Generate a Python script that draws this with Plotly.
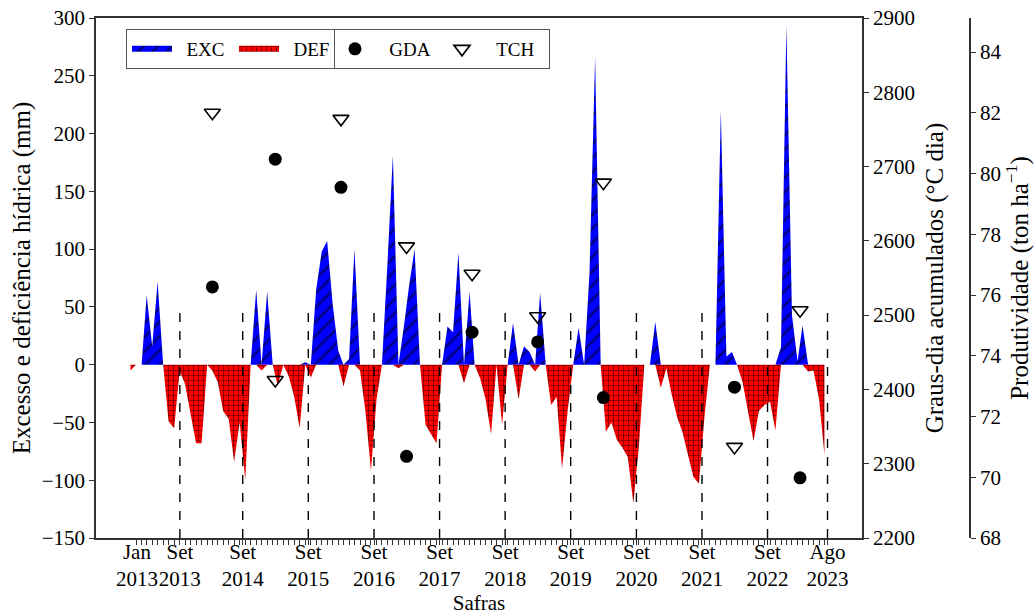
import plotly.graph_objects as go
import pandas as pd

# ---------------- data ----------------
# monthly water balance, Dec 2012 .. Jul 2023
exc_2012 = [0]
def_2012 = [-5]
exc_2013 = [0, 0, 60, 16, 72, 0, 0, 0, 0, 0, 0, 0]
def_2013 = [0, 0, 0, 0, 0, 0, -49, -55, -5, -17, -43, -68]
exc_2014 = [0, 0, 0, 0, 0, 0, 0, 0, 0, 0, 65, 0]
def_2014 = [-68, 0, -5, -15, -40, -47, -84, -50, -100, 0, 0, -5]
exc_2015 = [63, 0, 0, 0, 0, 0, 0, 2, 0, 65, 98, 107]
def_2015 = [0, 0, -18, 0, -10, -28, -55, 0, -11, 0, 0, 0]
exc_2016 = [52, 12, 0, 5, 100, 0, 0, 0, 0, 0, 88, 181]
def_2016 = [0, 0, -19, 0, 0, -5, -40, -92, -30, 0, 0, 0]
exc_2017 = [0, 34, 68, 100, 0, 0, 0, 0, 0, 33, 28, 97]
def_2017 = [-3, 0, 0, 0, 0, -52, -60, -68, 0, 0, 0, 0]
exc_2018 = [0, 63, 0, 0, 0, 0, 0, 0, 0, 36, 0, 16]
def_2018 = [-16, 0, 0, -12, -30, -60, 0, -52, 0, 0, -30, 0]
exc_2019 = [11, 0, 62, 0, 0, 0, 0, 0, 0, 32, 0, 80]
def_2019 = [0, -6, 0, 0, -35, -28, -90, -40, 0, 0, 0, 0]
exc_2020 = [266, 0, 0, 0, 0, 0, 0, 0, 0, 0, 0, 37]
def_2020 = [0, 0, -58, -50, -65, -72, -80, -120, -70, 0, 0, 0]
exc_2021 = [0, 0, 0, 0, 0, 0, 0, 0, 0, 0, 0, 220]
def_2021 = [-20, -3, -25, -45, -58, -78, -97, -103, -45, 0, 0, 0]
exc_2022 = [7, 11, 0, 0, 0, 0, 0, 0, 0, 0, 15, 294]
def_2022 = [0, 0, 0, -15, -40, -66, -40, -35, -32, -57, 0, 0]
exc_2023 = [43, 3, 34, 0, 0, 0, 0]
def_2023 = [0, 0, 0, -6, -5, -30, -78]

exc = (exc_2012 + exc_2013 + exc_2014 + exc_2015 + exc_2016 + exc_2017 +
       exc_2018 + exc_2019 + exc_2020 + exc_2021 + exc_2022 + exc_2023)
deff = (def_2012 + def_2013 + def_2014 + def_2015 + def_2016 + def_2017 +
        def_2018 + def_2019 + def_2020 + def_2021 + def_2022 + def_2023)
months = pd.date_range("2012-12-01", periods=len(exc), freq="MS") + pd.Timedelta(days=14)

# per-season values (safra 2020/21 not shown)
safras = ["2013/14", "2014/15", "2015/16", "2016/17", "2017/18",
          "2018/19", "2019/20", "2020/21", "2021/22", "2022/23"]
safra_mid = ["2014-03-16", "2015-03-01", "2016-03-01", "2017-03-01", "2018-03-01",
             "2019-03-01", "2020-03-01", "2021-03-01", "2022-03-01", "2023-03-01"]
gda = [2538, 2710, 2672, 2310, 2477, 2464, 2389, None, 2403, 2281]
tch = [82.0, 73.2, 81.8, 77.6, 76.7, 75.3, 79.7, None, 71.0, 75.5]

# season boundaries / tick labels
tick_dates = ["2013-01-20", "2013-09-16", "2014-09-01", "2015-09-01", "2016-09-01",
              "2017-09-01", "2018-09-01", "2019-09-01", "2020-09-01", "2021-09-01",
              "2022-09-01", "2023-08-01"]
tick_labels = ["Jan<br>2013", "Set<br>2013", "Set<br>2014", "Set<br>2015", "Set<br>2016",
               "Set<br>2017", "Set<br>2018", "Set<br>2019", "Set<br>2020", "Set<br>2021",
               "Set<br>2022", "Ago<br>2023"]
boundary_dates = tick_dates[1:]

# ---------------- figure ----------------
FONT = "Liberation Serif"
AX = "#333333"
W, H = 1036, 616
ML, MR, MT, MB = 96, 61, 18, 78
PW = W - ML - MR
PH = H - MT - MB
x_dom_end = (862 - ML) / PW
y3_pos = (970 - ML) / PW
NB = "\u00a0"

fig = go.Figure()
fig.add_trace(go.Scatter(
    x=months, y=exc, name=NB * 2 + "EXC", mode="none", fill="tozeroy",
    fillcolor="#0000ff",
    fillpattern=dict(shape="/", fgcolor="black", bgcolor="#0000ff", size=10, solidity=0.25),
    legend="legend", hoverinfo="skip"))
fig.add_trace(go.Scatter(
    x=months, y=deff, name=NB * 2 + "DEF" + NB * 2, mode="none", fill="tozeroy",
    fillcolor="#ff0000",
    fillpattern=dict(shape="+", fgcolor="black", bgcolor="#ff0000", size=5, solidity=0.3),
    legend="legend", hoverinfo="skip"))
fig.add_trace(go.Scatter(
    x=safra_mid, y=gda, name=NB * 3 + "GDA", mode="markers", yaxis="y2",
    marker=dict(color="black", size=13), legend="legend2", text=safras))
fig.add_trace(go.Scatter(
    x=safra_mid, y=tch, name=NB * 3 + "TCH", mode="markers", yaxis="y3",
    marker=dict(symbol="triangle-down-open", color="black", size=14,
                line=dict(width=1.6, color="black")),
    legend="legend2", text=safras))

for d in boundary_dates:
    fig.add_shape(type="line", xref="x", yref="y", x0=d, x1=d, y0=-150, y1=50,
                  line=dict(color="black", width=1.4, dash="dash"))

month_ticks = [d.strftime("%Y-%m-%d") for d in
               pd.date_range("2013-01-01", "2023-07-01", freq="MS") + pd.Timedelta(days=14)]
all_tickvals = month_ticks + tick_dates
all_ticktext = [""] * len(month_ticks) + tick_labels

fig.update_layout(
    width=W, height=H,
    margin=dict(l=ML, r=MR, t=MT, b=MB, autoexpand=False),
    paper_bgcolor="white", plot_bgcolor="white",
    font=dict(family=FONT, size=21, color="black"),
    xaxis=dict(
        type="date", domain=[0, x_dom_end],
        range=["2012-06-06", "2024-02-09"],
        tickmode="array", tickvals=all_tickvals, ticktext=all_ticktext,
        ticks="outside", ticklen=5, tickcolor=AX, tickangle=0,
        ticklabelstandoff=-11, ticklabeloverflow="allow",
        showline=True, linecolor=AX, linewidth=1.5, mirror=True,
        showgrid=False, zeroline=False,
        title=dict(text="Safras", standoff=2, font=dict(size=21)),
        automargin=False),
    yaxis=dict(
        range=[-150, 300], tick0=0, dtick=50,
        ticks="outside", ticklen=5, tickcolor=AX, ticklabeloverflow="allow",
        showline=True, linecolor=AX, linewidth=1.5,
        showgrid=False, zeroline=False,
        title=dict(text="Excesso e deficiência hídrica (mm)", standoff=4),
        automargin=False),
    yaxis2=dict(
        overlaying="y", side="right", anchor="x",
        range=[2200, 2900], tick0=2200, dtick=100,
        ticks="outside", ticklen=5, tickcolor=AX, ticklabeloverflow="allow",
        showline=True, linecolor=AX, linewidth=1.5,
        showgrid=False, zeroline=False,
        title=dict(text="Graus-dia acumulados (°C dia)", standoff=12),
        automargin=False),
    yaxis3=dict(
        overlaying="y", side="right", anchor="free", position=y3_pos,
        range=[68, 85.12], tick0=68, dtick=2,
        ticks="outside", ticklen=5, tickcolor=AX, ticklabeloverflow="allow",
        showline=True, linecolor=AX, linewidth=1.5,
        showgrid=False, zeroline=False,
        title=dict(text="Produtividade (ton ha<sup>−1</sup>)", standoff=4),
        automargin=False),
    legend=dict(
        x=(126 - ML) / PW, y=1 - (29 - MT) / PH,
        xanchor="left", yanchor="top", orientation="h",
        bgcolor="white", bordercolor="#555555", borderwidth=1,
        font=dict(size=19), entrywidth=52, entrywidthmode="pixels",
        itemwidth=40),
    legend2=dict(
        x=(334 - ML) / PW, y=1 - (29 - MT) / PH,
        xanchor="left", yanchor="top", orientation="h",
        bgcolor="white", bordercolor="#555555", borderwidth=1,
        font=dict(size=19), entrywidth=62, entrywidthmode="pixels",
        itemwidth=30),
    showlegend=True,
)

fig.write_html("out.html", config={"displayModeBar": False},
               post_script="document.body.style.margin='0';")
